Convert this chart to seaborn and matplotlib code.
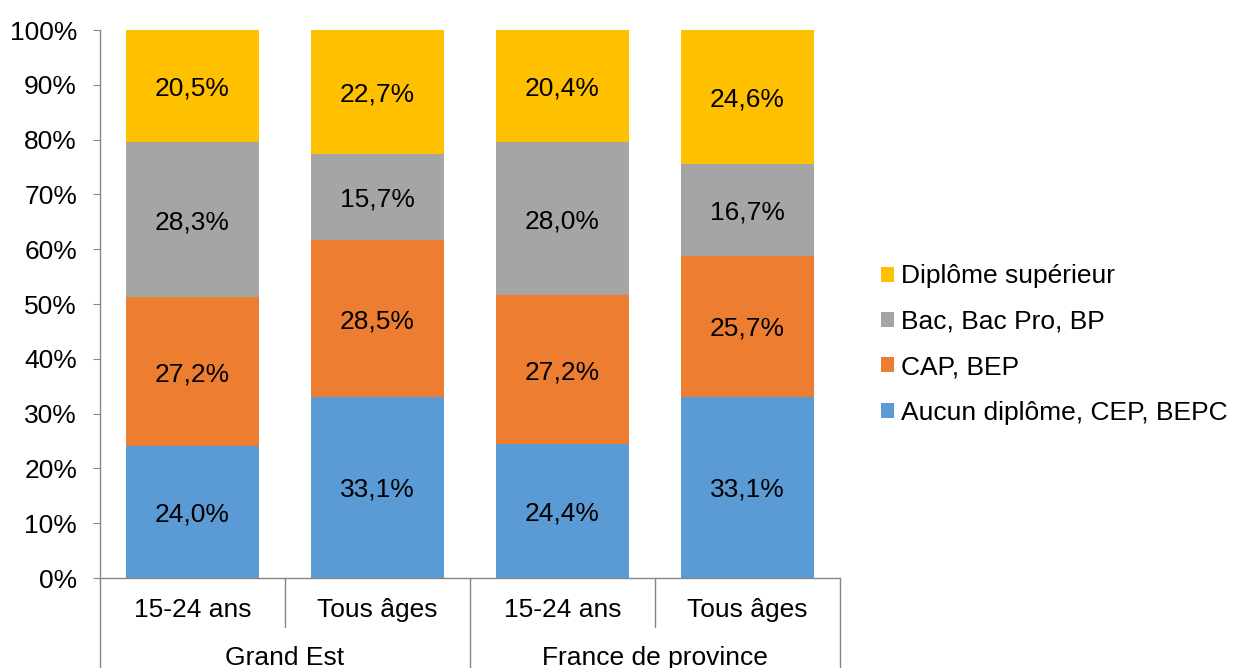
import matplotlib
matplotlib.use("Agg")
import matplotlib.pyplot as plt
import matplotlib.transforms as mtransforms
from matplotlib.patches import Patch
import numpy as np
import pandas as pd
import seaborn as sns

categories = ["15-24 ans", "Tous âges", "15-24 ans", "Tous âges"]
groups = ["Grand Est", "France de province"]
series_names = ["Aucun diplôme, CEP, BEPC", "CAP, BEP", "Bac, Bac Pro, BP", "Diplôme supérieur"]
aucun = [24.0, 33.1, 24.4, 33.1]
cap = [27.2, 28.5, 27.2, 25.7]
bac = [28.3, 15.7, 28.0, 16.7]
sup = [20.5, 22.7, 20.4, 24.6]
colors = ["#5B9BD5", "#ED7D31", "#A5A5A5", "#FFC000"]
yticks = [0, 10, 20, 30, 40, 50, 60, 70, 80, 90, 100]

sns.set_style("white")
plt.rcParams["font.family"] = ["Liberation Sans", "DejaVu Sans"]
plt.rcParams["text.color"] = "black"
plt.rcParams["ytick.labelcolor"] = "black"
plt.rcParams["xtick.labelcolor"] = "black"
FS = 19

fig = plt.figure(figsize=(12.35, 6.68), dpi=100)
W, H = 1235, 668
ax = fig.add_axes([100 / W, (H - 578) / H, 740 / W, 548 / H])

series = [aucun, cap, bac, sup]
cum = np.cumsum(np.array(series), axis=0)
xidx = [f"c{i}" for i in range(len(categories))]
# draw from top layer down so lower layers overlay
for k in range(len(series) - 1, -1, -1):
    df = pd.DataFrame({"x": xidx, "y": np.minimum(cum[k], 100)})
    sns.barplot(data=df, x="x", y="y", color=colors[k], width=0.72,
                saturation=1, ax=ax, linewidth=0, errorbar=None)

label_trans = ax.transData + mtransforms.ScaledTranslation(0, -2.5 / 100, fig.dpi_scale_trans)
for i in range(len(categories)):
    base = 0
    for k in range(len(series)):
        v = series[k][i]
        ax.text(i, base + v / 2, f"{v:.1f}%".replace(".", ","), ha="center",
                va="center", fontsize=FS, color="black", transform=label_trans)
        base += v

ax.set_xlim(-0.5, len(categories) - 0.5)
ax.set_ylim(0, 100)
ax.set_yticks(yticks)
ax.set_yticklabels([f"{t}%" for t in yticks], fontsize=FS, color="black")
ax.set_xticks([])
ax.set_xlabel("")
ax.set_ylabel("")
for s in ["top", "right"]:
    ax.spines[s].set_visible(False)
for s in ["left", "bottom"]:
    ax.spines[s].set_color("#868686")
    ax.spines[s].set_linewidth(1.0)
ax.tick_params(axis="y", direction="out", length=5, color="#868686", pad=11.5,
               left=True, labelcolor="black")

# multi-level category axis
trans = mtransforms.blended_transform_factory(ax.transData, fig.transFigure)
def fy(py):
    return (H - py) / H
for i, c in enumerate(categories):
    ax.text(i, fy(610), c, transform=trans, ha="center", va="center", fontsize=FS,
            color="black")
for g, name in enumerate(groups):
    ax.text(2 * g + 0.5, fy(658), name, transform=trans, ha="center", va="center",
            fontsize=FS, color="black")
for xb in [-0.5, 0.5, 1.5, 2.5, 3.5]:
    long_line = xb in (-0.5, 1.5, 3.5)
    y_end = fy(668) if long_line else fy(627)
    ax.plot([xb, xb], [fy(578), y_end], transform=trans, color="#868686",
            lw=1.0, clip_on=False)

handles = [Patch(facecolor=colors[k], edgecolor="none", label=series_names[k])
           for k in range(len(series) - 1, -1, -1)]
leg = fig.legend(handles=handles, loc="center left", bbox_to_anchor=(881 / W, fy(344.5)),
                 frameon=False, fontsize=FS, handlelength=0.5, handleheight=0.5,
                 handletextpad=0.27, labelspacing=0.81, borderaxespad=0, borderpad=0)
for t in leg.get_texts():
    t.set_color("black")

fig.savefig("out.png", dpi=100)
